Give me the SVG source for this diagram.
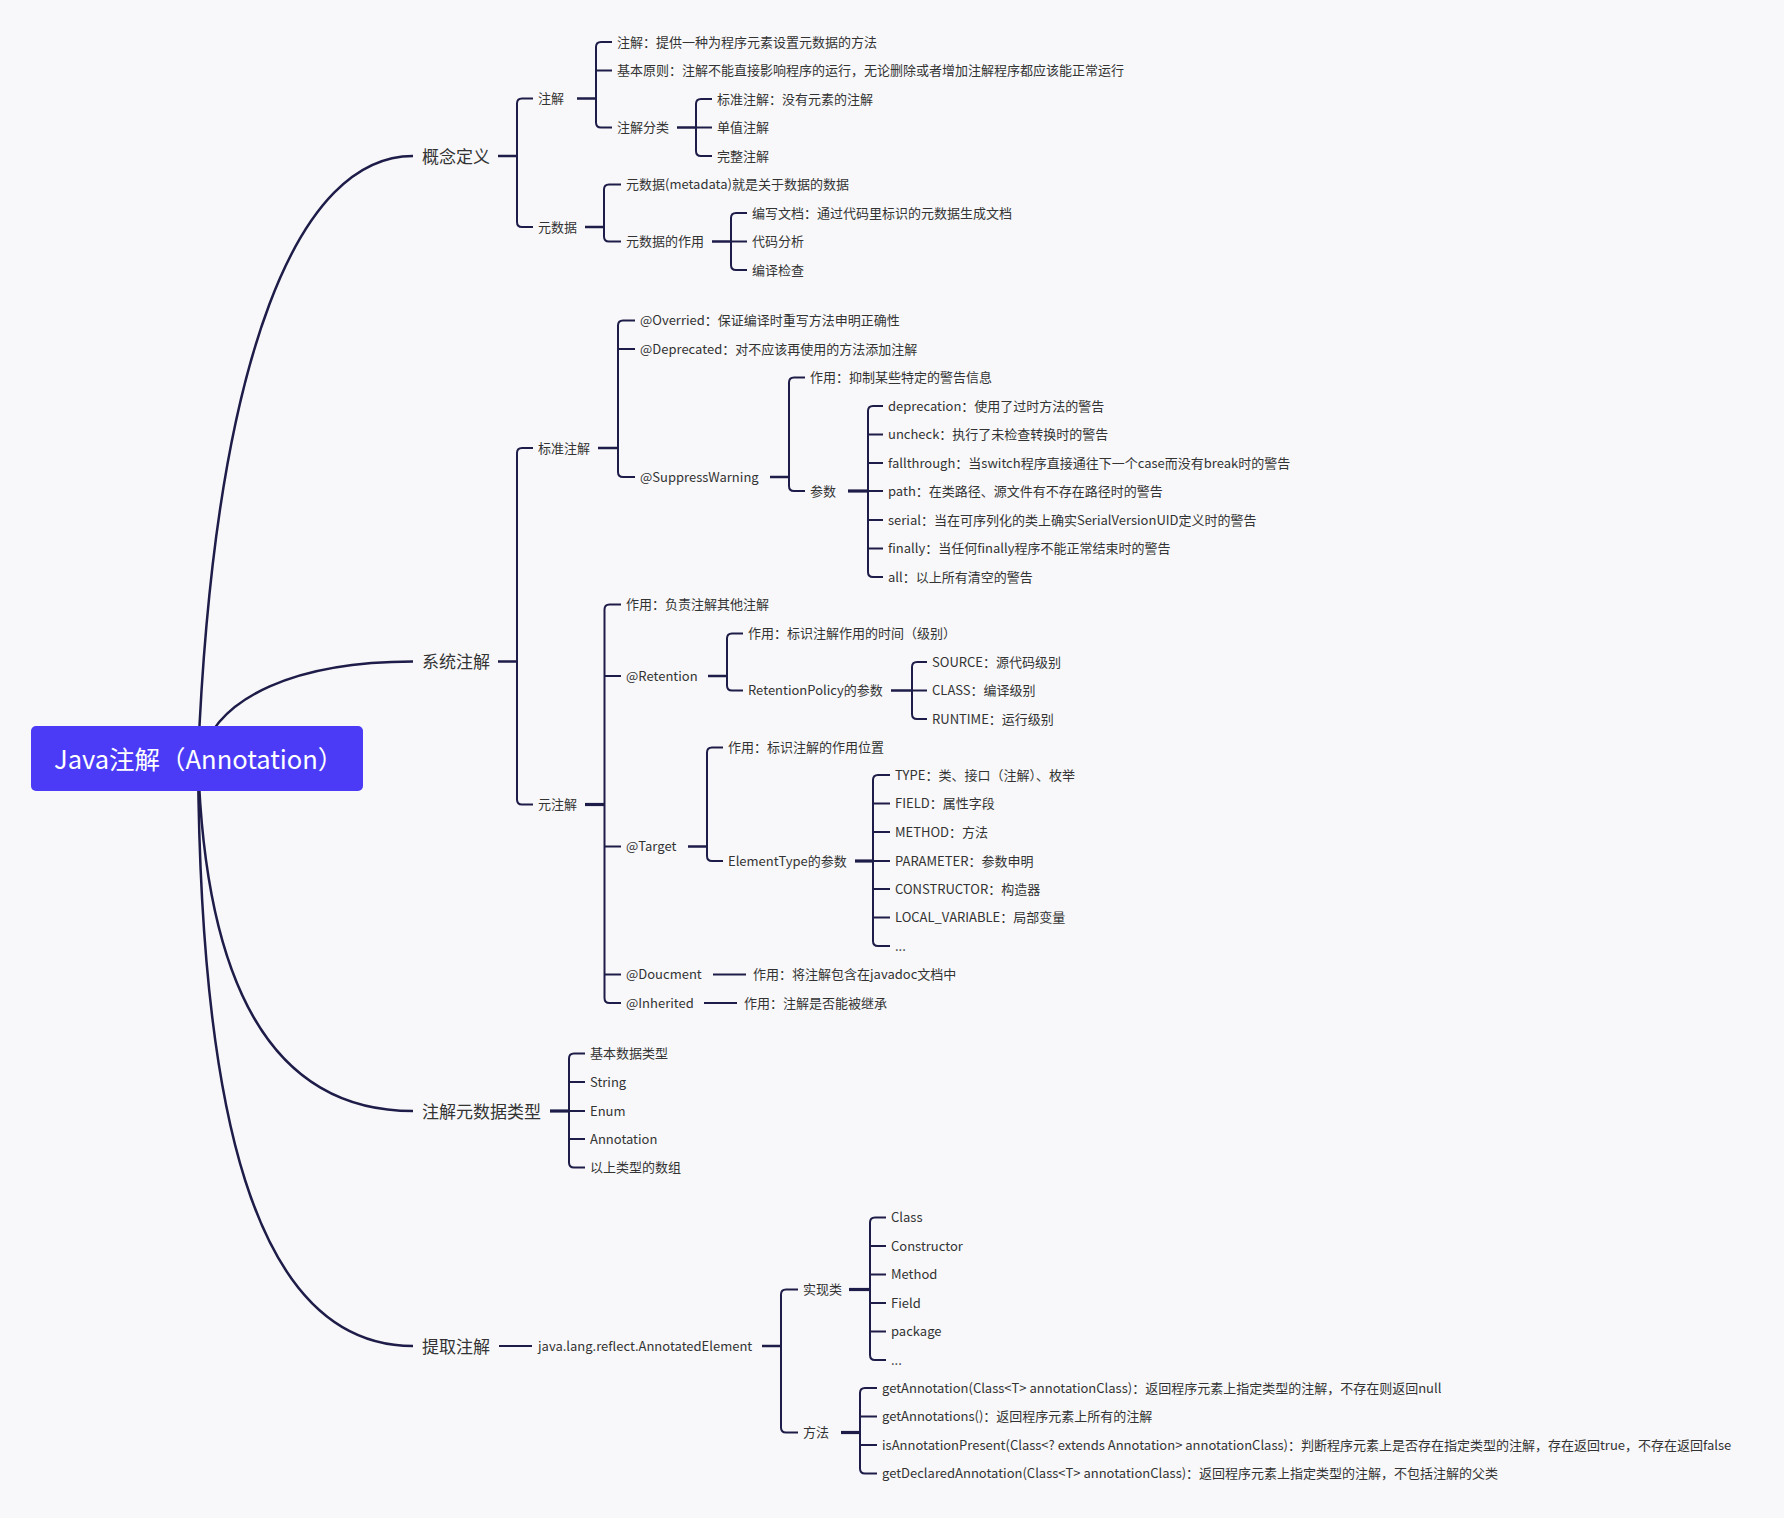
<svg xmlns="http://www.w3.org/2000/svg" width="1784" height="1518" viewBox="0 0 1784 1518">
<style>
text{font-family:"Noto Sans CJK SC","Noto Sans",sans-serif;fill:#333;dominant-baseline:central}
.t{font-size:13px}
.t1{font-size:17px}
.root{font-size:25.5px;fill:#fff}
.ln{fill:none;stroke:#1e1c48;stroke-width:2;stroke-linecap:butt}
.stub{fill:none;stroke:#1e1c48;stroke-width:2.5}
.stub3{fill:none;stroke:#1e1c48;stroke-width:3.2}
.curve{fill:none;stroke:#1e1c48;stroke-width:2.5}
</style>
<rect width="1784" height="1518" fill="#f8f8fa"/>
<g id="connectors">
<path class="curve" d="M198 758 C215 350 300 156 413 156"/>
<path class="curve" d="M200 760 C215 695 300 661.5 413 661.5"/>
<path class="curve" d="M198 758 C205 1000 280 1111 413 1111"/>
<path class="curve" d="M198 758 C200 1100 250 1346 413 1346"/>
<path class="stub" d="M498 156 H517"/>
<path class="ln" d="M533 98.5 H522 Q517 98.5 517 103.5 V222 Q517 227 522 227 H533"/>
<path class="stub" d="M577 98.5 H596"/>
<path class="ln" d="M612 42 H601 Q596 42 596 47 V122.5 Q596 127.5 601 127.5 H612 M596 70.5 H612"/>
<path class="stub" d="M677 127.5 H696"/>
<path class="ln" d="M712 99 H701 Q696 99 696 104 V151 Q696 156 701 156 H712 M696 127.5 H712"/>
<path class="stub" d="M585 227 H604"/>
<path class="ln" d="M621 184.5 H609 Q604 184.5 604 189.5 V236.5 Q604 241.5 609 241.5 H621"/>
<path class="stub" d="M712 241.5 H731"/>
<path class="ln" d="M747 213 H736 Q731 213 731 218 V265 Q731 270 736 270 H747 M731 241.5 H747"/>
<path class="stub" d="M498 661.5 H517"/>
<path class="ln" d="M533 448 H522 Q517 448 517 453 V799.5 Q517 804.5 522 804.5 H533"/>
<path class="stub" d="M598 448 H618"/>
<path class="ln" d="M635 320.5 H623 Q618 320.5 618 325.5 V472 Q618 477 623 477 H635 M618 349 H635"/>
<path class="stub" d="M770 477 H789"/>
<path class="ln" d="M805 377.5 H794 Q789 377.5 789 382.5 V486 Q789 491 794 491 H805"/>
<path class="stub3" d="M848 491 H868"/>
<path class="ln" d="M883 406 H873 Q868 406 868 411 V572 Q868 577 873 577 H883 M868 434.5 H883 M868 463 H883 M868 491 H883 M868 520 H883 M868 548.5 H883"/>
<path class="stub3" d="M585 804.5 H604.5"/>
<path class="ln" d="M621 604.5 H609.5 Q604.5 604.5 604.5 609.5 V998 Q604.5 1003 609.5 1003 H621 M604.5 676 H621 M604.5 846.5 H621 M604.5 974.5 H621"/>
<path class="stub" d="M708 676 H727"/>
<path class="ln" d="M743 633.5 H732 Q727 633.5 727 638.5 V685.5 Q727 690.5 732 690.5 H743"/>
<path class="stub" d="M891 690.5 H912"/>
<path class="ln" d="M927 662 H917 Q912 662 912 667 V714 Q912 719 917 719 H927 M912 690.5 H927"/>
<path class="stub" d="M688 846.5 H707"/>
<path class="ln" d="M723 747.5 H712 Q707 747.5 707 752.5 V856 Q707 861 712 861 H723"/>
<path class="stub3" d="M855 861 H873"/>
<path class="ln" d="M890 775 H878 Q873 775 873 780 V941 Q873 946 878 946 H890 M873 803.5 H890 M873 832 H890 M873 861 H890 M873 889 H890 M873 917.5 H890"/>
<path class="ln" d="M713 974.5 H746"/>
<path class="ln" d="M704 1003 H737"/>
<path class="stub3" d="M550 1111 H569"/>
<path class="ln" d="M585 1053.5 H574 Q569 1053.5 569 1058.5 V1162.5 Q569 1167.5 574 1167.5 H585 M569 1082 H585 M569 1111 H585 M569 1139 H585"/>
<path class="ln" d="M499 1346 H532"/>
<path class="stub" d="M762 1346 H781"/>
<path class="ln" d="M798 1289.5 H786 Q781 1289.5 781 1294.5 V1427.5 Q781 1432.5 786 1432.5 H798"/>
<path class="stub3" d="M849 1289.5 H870"/>
<path class="ln" d="M886 1217.5 H875 Q870 1217.5 870 1222.5 V1355 Q870 1360 875 1360 H886 M870 1246 H886 M870 1274.5 H886 M870 1303 H886 M870 1331.5 H886"/>
<path class="stub3" d="M841 1432.5 H860"/>
<path class="ln" d="M877 1388 H865 Q860 1388 860 1393 V1468.5 Q860 1473.5 865 1473.5 H877 M860 1416.5 H877 M860 1445 H877"/>
</g>
<g id="root">
<rect x="31" y="726" width="332" height="65" rx="5" fill="#4b3bf6"/>
<text class="root" x="54" y="757">Java注解（Annotation）</text>
</g>
<g transform="translate(0,-1)">
<g id="n-gainian"><text class="t1" x="422" y="156">概念定义</text></g>
<g id="n-zhujie"><text class="t" x="538" y="98.5">注解</text></g>
<g id="n-zhujie-def"><text class="t" x="617" y="42">注解：提供一种为程序元素设置元数据的方法</text></g>
<g id="n-yuanze"><text class="t" x="617" y="70.5">基本原则：注解不能直接影响程序的运行，无论删除或者增加注解程序都应该能正常运行</text></g>
<g id="n-fenlei"><text class="t" x="617" y="127.5">注解分类</text></g>
<g id="n-biaozhun0"><text class="t" x="717" y="99">标准注解：没有元素的注解</text></g>
<g id="n-danzhi"><text class="t" x="717" y="127.5">单值注解</text></g>
<g id="n-wanzheng"><text class="t" x="717" y="156">完整注解</text></g>
<g id="n-yuanshuju"><text class="t" x="538" y="227">元数据</text></g>
<g id="n-metadata"><text class="t" x="626" y="184.5">元数据(metadata)就是关于数据的数据</text></g>
<g id="n-zuoyong0"><text class="t" x="626" y="241.5">元数据的作用</text></g>
<g id="n-bianxie"><text class="t" x="752" y="213">编写文档：通过代码里标识的元数据生成文档</text></g>
<g id="n-daima"><text class="t" x="752" y="241.5">代码分析</text></g>
<g id="n-bianyi"><text class="t" x="752" y="270">编译检查</text></g>
<g id="n-xitong"><text class="t1" x="422" y="661.5">系统注解</text></g>
<g id="n-biaozhun"><text class="t" x="538" y="448">标准注解</text></g>
<g id="n-overried"><text class="t" x="640" y="320.5">@Overried：保证编译时重写方法申明正确性</text></g>
<g id="n-deprecated"><text class="t" x="640" y="349">@Deprecated：对不应该再使用的方法添加注解</text></g>
<g id="n-suppress"><text class="t" x="640" y="477">@SuppressWarning</text></g>
<g id="n-sw-zuoyong"><text class="t" x="810" y="377.5">作用：抑制某些特定的警告信息</text></g>
<g id="n-canshu"><text class="t" x="810" y="491">参数</text></g>
<g id="n-p1"><text class="t" x="888" y="406">deprecation：使用了过时方法的警告</text></g>
<g id="n-p2"><text class="t" x="888" y="434.5">uncheck：执行了未检查转换时的警告</text></g>
<g id="n-p3"><text class="t" x="888" y="463">fallthrough：当switch程序直接通往下一个case而没有break时的警告</text></g>
<g id="n-p4"><text class="t" x="888" y="491">path：在类路径、源文件有不存在路径时的警告</text></g>
<g id="n-p5"><text class="t" x="888" y="520">serial：当在可序列化的类上确实SerialVersionUID定义时的警告</text></g>
<g id="n-p6"><text class="t" x="888" y="548.5">finally：当任何finally程序不能正常结束时的警告</text></g>
<g id="n-p7"><text class="t" x="888" y="577">all：以上所有清空的警告</text></g>
<g id="n-yuanzhujie"><text class="t" x="538" y="804.5">元注解</text></g>
<g id="n-yz-zuoyong"><text class="t" x="626" y="604.5">作用：负责注解其他注解</text></g>
<g id="n-retention"><text class="t" x="626" y="676">@Retention</text></g>
<g id="n-ret-zuoyong"><text class="t" x="748" y="633.5">作用：标识注解作用的时间（级别）</text></g>
<g id="n-retpolicy"><text class="t" x="748" y="690.5">RetentionPolicy的参数</text></g>
<g id="n-source"><text class="t" x="932" y="662">SOURCE：源代码级别</text></g>
<g id="n-class"><text class="t" x="932" y="690.5">CLASS：编译级别</text></g>
<g id="n-runtime"><text class="t" x="932" y="719">RUNTIME：运行级别</text></g>
<g id="n-target"><text class="t" x="626" y="846.5">@Target</text></g>
<g id="n-tg-zuoyong"><text class="t" x="728" y="747.5">作用：标识注解的作用位置</text></g>
<g id="n-elementtype"><text class="t" x="728" y="861">ElementType的参数</text></g>
<g id="n-e1"><text class="t" x="895" y="775">TYPE：类、接口（注解）、枚举</text></g>
<g id="n-e2"><text class="t" x="895" y="803.5">FIELD：属性字段</text></g>
<g id="n-e3"><text class="t" x="895" y="832">METHOD：方法</text></g>
<g id="n-e4"><text class="t" x="895" y="861">PARAMETER：参数申明</text></g>
<g id="n-e5"><text class="t" x="895" y="889">CONSTRUCTOR：构造器</text></g>
<g id="n-e6"><text class="t" x="895" y="917.5">LOCAL_VARIABLE：局部变量</text></g>
<g id="n-e7"><text class="t" x="895" y="946">...</text></g>
<g id="n-doucment"><text class="t" x="626" y="974.5">@Doucment</text></g>
<g id="n-doc-zuoyong"><text class="t" x="753" y="974.5">作用：将注解包含在javadoc文档中</text></g>
<g id="n-inherited"><text class="t" x="626" y="1003">@Inherited</text></g>
<g id="n-inh-zuoyong"><text class="t" x="744" y="1003">作用：注解是否能被继承</text></g>
<g id="n-leixing"><text class="t1" x="422" y="1111">注解元数据类型</text></g>
<g id="n-l1"><text class="t" x="590" y="1053.5">基本数据类型</text></g>
<g id="n-l2"><text class="t" x="590" y="1082">String</text></g>
<g id="n-l3"><text class="t" x="590" y="1111">Enum</text></g>
<g id="n-l4"><text class="t" x="590" y="1139">Annotation</text></g>
<g id="n-l5"><text class="t" x="590" y="1167.5">以上类型的数组</text></g>
<g id="n-tiqu"><text class="t1" x="422" y="1346">提取注解</text></g>
<g id="n-annotated"><text class="t" x="538" y="1346">java.lang.reflect.AnnotatedElement</text></g>
<g id="n-shixian"><text class="t" x="803" y="1289.5">实现类</text></g>
<g id="n-c1"><text class="t" x="891" y="1217.5">Class</text></g>
<g id="n-c2"><text class="t" x="891" y="1246">Constructor</text></g>
<g id="n-c3"><text class="t" x="891" y="1274.5">Method</text></g>
<g id="n-c4"><text class="t" x="891" y="1303">Field</text></g>
<g id="n-c5"><text class="t" x="891" y="1331.5">package</text></g>
<g id="n-c6"><text class="t" x="891" y="1360">...</text></g>
<g id="n-fangfa"><text class="t" x="803" y="1432.5">方法</text></g>
<g id="n-m1"><text class="t" x="882" y="1388">getAnnotation(Class&lt;T&gt; annotationClass)：返回程序元素上指定类型的注解，不存在则返回null</text></g>
<g id="n-m2"><text class="t" x="882" y="1416.5">getAnnotations()：返回程序元素上所有的注解</text></g>
<g id="n-m3"><text class="t" x="882" y="1445">isAnnotationPresent(Class&lt;? extends Annotation&gt; annotationClass)：判断程序元素上是否存在指定类型的注解，存在返回true，不存在返回false</text></g>
<g id="n-m4"><text class="t" x="882" y="1473.5">getDeclaredAnnotation(Class&lt;T&gt; annotationClass)：返回程序元素上指定类型的注解，不包括注解的父类</text></g>
</g>
</svg>
